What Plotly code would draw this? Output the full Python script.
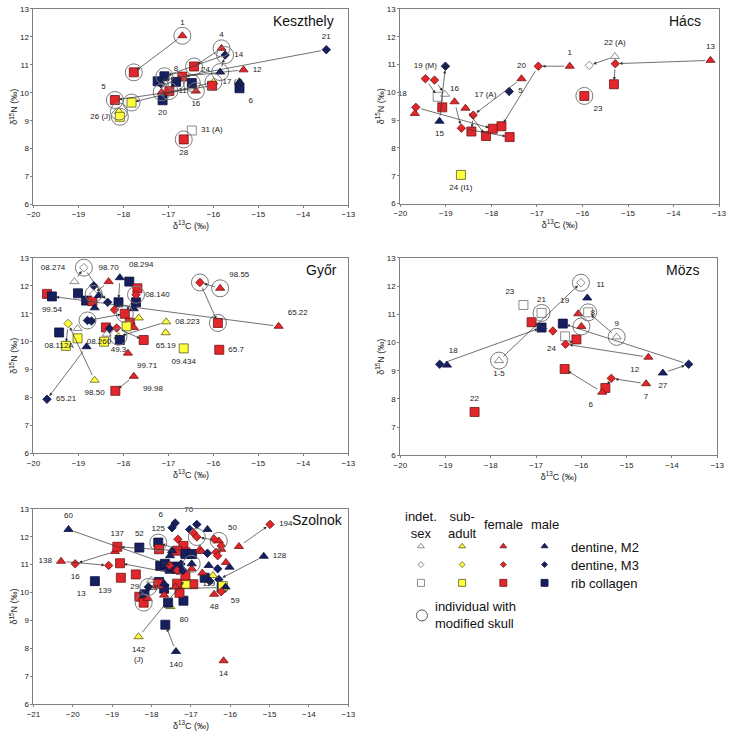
import plotly.graph_objects as go

# kind code: first letter = group (I indet. sex, S sub-adult, F female, M male)
#            second letter = tissue (2 dentine M2, 3 dentine M3, R rib collagen)

# ---------------- Keszthely ----------------
KESZ_X = [-16.69, -17.77, -15.82, -16.43, -15.74, -15.85, -13.49, -17.09, -15.33, -16.69,
          -16.83, -17.24, -17.16, -16.48, -16.00, -16.03, -17.82, -16.39, -17.15, -16.98,
          -18.19, -17.13, -15.42, -15.42, -18.10, -18.08, -16.48, -16.66]
KESZ_Y = [12.04, 10.73, 11.59, 10.94, 11.35, 10.74, 11.54, 10.59, 10.82, 10.58,
          10.39, 10.41, 10.31, 10.35, 10.38, 10.25, 9.65, 10.06, 10.02, 10.06,
          9.74, 9.73, 10.39, 10.16, 9.33, 9.14, 8.65, 8.33]
KESZ_KIND = ['F2', 'FR', 'F2', 'FR', 'M3', 'M2', 'M3', 'MR', 'F2', 'FR',
             'MR', 'MR', 'M3', 'MR', 'S2', 'FR', 'SR', 'F2', 'F2', 'FR',
             'FR', 'MR', 'M2', 'MR', 'S2', 'SR', 'IR', 'FR']
KESZ_MOD = [1, 1, 1, 1, 1, 1, 0, 1, 0, 0,
            1, 0, 0, 1, 1, 0, 1, 1, 1, 1,
            1, 0, 0, 0, 1, 1, 0, 1]
KESZ_LABELS = {0: '1', 2: '4', 4: '14', 6: '21', 8: '12', 10: '8', 13: '24', 14: '17 (J)',
               17: '16', 19: '11', 20: '5', 21: '20', 23: '6', 25: '26 (J)', 26: '31 (A)', 27: '28'}
KESZ_ARROWS = [(0, 1), (2, 3), (5, 4), (4, 7), (6, 11), (8, 9), (14, 16), (15, 20)]

# ---------------- Hács ----------------
HACS_X = [-16.28, -16.97, -17.78, -15.29, -15.85, -13.19, -15.28, -15.31, -15.96, -17.34,
          -18.40, -17.61, -18.57, -18.81, -19.45, -19.25, -19.01, -19.18, -19.02, -19.08,
          -19.14, -19.66, -19.68, -18.66, -18.44, -18.12, -17.97, -17.60, -18.67]
HACS_Y = [10.94, 10.94, 8.78, 11.29, 10.97, 11.15, 11.03, 10.29, 9.87, 10.49,
          9.18, 10.03, 9.43, 9.66, 10.49, 10.44, 10.94, 9.84, 9.93, 9.46,
          8.96, 9.46, 9.24, 8.71, 8.59, 8.43, 8.69, 8.39, 7.03]
HACS_KIND = ['F2', 'F3', 'FR', 'I2', 'I3', 'F2', 'F3', 'FR', 'FR', 'F2',
             'F3', 'M3', 'F2', 'F2', 'F3', 'F3', 'M3', 'IR', 'I2', 'FR',
             'M2', 'F3', 'F2', 'F3', 'FR', 'FR', 'FR', 'FR', 'SR']
HACS_MOD = [0] * 8 + [1] + [0] * 20
HACS_LABELS = {0: '1', 3: '22 (A)', 5: '13', 8: '23', 9: '20', 11: '5', 12: '17 (A)', 13: '16',
               14: '19 (M)', 15: '4', 20: '15', 21: '18', 28: '24 (I1)'}
HACS_ARROWS = [(0, 1), (1, 2), (3, 4), (5, 6), (6, 7), (9, 10), (10, 24), (20, 16),
               (14, 17), (15, 18), (13, 23), (23, 27), (12, 25), (21, 26)]

# ---------------- Győr ----------------
GYOR_X = [-19.09, -18.88, -18.33, -18.08, -18.11, -17.87, -17.69, -17.72, -17.77, -17.72,
          -19.70, -19.59, -14.55, -19.01, -18.83, -18.69, -18.66, -18.66, -18.55, -18.35,
          -18.64, -18.80, -18.71, -19.02, -19.43, -19.23, -19.28, -19.02, -18.64, -18.82,
          -19.70, -18.20, -17.97, -18.39, -18.31, -18.37, -17.84, -17.86, -17.77, -18.15,
          -17.55, -17.93, -17.66, -18.11, -18.43, -18.08, -17.90, -17.05, -17.06, -16.66,
          -15.85, -16.30, -15.90, -15.87, -17.77, -18.18]
GYOR_Y = [12.15, 12.65, 12.15, 12.29, 11.41, 12.15, 11.91, 11.41, 11.18, 11.68,
          11.71, 11.62, 10.55, 11.73, 11.47, 11.45, 12.00, 11.71, 11.65, 11.41,
          11.21, 10.76, 10.74, 10.47, 10.33, 10.65, 9.85, 10.12, 8.62, 9.82,
          7.94, 11.14, 11.00, 10.51, 10.47, 10.27, 10.71, 10.68, 10.51, 10.49,
          10.06, 10.55, 10.85, 10.18, 10.00, 10.06, 9.59, 10.71, 10.32, 9.76,
          11.91, 12.12, 10.67, 9.71, 8.76, 8.24]
GYOR_KIND = ['I2', 'I3', 'F2', 'M2', 'MR', 'MR', 'FR', 'MR', 'M2', 'F3',
             'FR', 'MR', 'F2', 'MR', 'MR', 'FR', 'M3', 'I3', 'M2', 'M3',
             'M2', 'M3', 'M3', 'I2', 'MR', 'S3', 'SR', 'SR', 'S2', 'M2',
             'M3', 'F3', 'FR', 'FR', 'M3', 'I2', 'F2', 'FR', 'F2', 'F3',
             'FR', 'SR', 'S2', 'S2', 'SR', 'MR', 'F2', 'S2', 'S2', 'SR',
             'F2', 'F3', 'FR', 'FR', 'F2', 'FR']
GYOR_MOD = [0, 1, 0, 0, 0, 0, 0, 0, 0, 1,
            0, 0, 0, 0, 0, 0, 0, 1, 0, 0,
            0, 1, 0, 0, 0, 0, 0, 0, 0, 0,
            0, 0, 1, 0, 0, 0, 0, 0, 0, 0,
            0, 0, 0, 1, 0, 0, 0, 0, 0, 0,
            1, 1, 1, 0, 0, 0]
GYOR_LABELS = {0: '08.274', 2: '98.70', 3: '08.294', 9: '08.140', 11: '99.54', 12: '65.22',
               23: '08.260', 24: '08.112A', 28: '98.50', 30: '65.21', 43: '49.3', 46: '99.71',
               47: '08.223', 48: '65.19', 49: '09.434', 50: '98.55', 53: '65.7', 54: '99.98'}
GYOR_ARROWS = [(0, 1), (1, 19), (2, 17), (3, 4), (12, 11), (25, 26), (28, 25), (29, 30),
               (39, 40), (47, 43), (50, 51), (51, 52), (54, 55), (9, 32), (21, 32)]

# ---------------- Mözs ----------------
MOZS_X = [-19.13, -18.97, -16.88, -17.82, -16.01, -17.28, -16.88, -17.10, -16.63, -16.41,
          -16.36, -16.11, -16.35, -16.07, -15.87, -16.00, -15.85, -15.22, -14.52, -13.63,
          -14.20, -14.57, -15.34, -15.47, -15.54, -16.37, -18.36]
MOZS_Y = [9.23, 9.20, 10.53, 9.36, 12.12, 11.33, 11.05, 10.72, 10.41, 10.67,
          10.22, 10.11, 9.94, 11.02, 11.58, 10.57, 11.07, 10.20, 9.48, 9.23,
          8.92, 8.54, 8.73, 8.39, 8.24, 9.06, 7.54]
MOZS_KIND = ['M3', 'M2', 'MR', 'I2', 'I3', 'IR', 'IR', 'FR', 'F3', 'MR',
             'IR', 'FR', 'F3', 'F2', 'M2', 'F2', 'IR', 'I2', 'F2', 'M3',
             'M2', 'F2', 'F3', 'FR', 'F2', 'FR', 'FR']
MOZS_MOD = [0, 0, 0, 1, 1, 0, 1, 0, 0, 0,
            0, 0, 0, 0, 0, 1, 1, 1, 0, 0,
            0, 0, 0, 0, 0, 0, 0]
MOZS_LABELS = {0: '18', 3: '1-5', 5: '23', 6: '21', 10: '24', 13: '19', 14: '11', 15: '8',
               17: '9', 18: '12', 20: '27', 21: '7', 24: '6', 26: '22'}
MOZS_ARROWS = [(0, 2), (3, 4), (8, 7), (19, 9), (20, 19), (12, 11), (18, 12),
               (21, 22), (22, 23), (24, 25), (17, 16)]

# ---------------- Szolnok ----------------
SZOL_X = [-20.11, -20.30, -19.94, -19.09, -18.93, -18.87, -18.31, -19.44, -18.78, -18.80,
          -18.40, -18.08, -18.01, -18.31, -18.18, -18.20, -18.33, -17.38, -17.65, -16.17,
          -17.52, -17.58, -17.19, -17.83, -17.48, -17.40, -16.85, -17.03, -16.58, -16.94,
          -16.85, -16.29, -16.41, -17.33, -14.99, -15.78, -15.15, -16.29, -16.22, -16.19,
          -16.41, -16.94, -17.14, -17.12, -16.44, -17.19, -17.14, -17.35, -17.81, -17.78,
          -17.66, -17.54, -17.43, -17.35, -17.14, -16.97, -17.81, -17.68, -16.65, -17.35,
          -17.29, -17.14, -17.83, -17.53, -17.48, -16.55, -16.02, -16.12, -17.68, -16.77,
          -16.73, -16.98, -16.71, -16.11, -16.23, -18.10, -17.68, -17.39, -16.36, -16.32,
          -16.23, -17.35, -17.54, -16.23, -16.58, -16.32, -16.52, -16.98, -17.25, -17.20]
SZOL_Y = [12.26, 11.12, 11.03, 10.97, 11.47, 11.64, 11.61, 10.41, 10.53, 11.05,
          10.65, 10.20, 10.44, 9.85, 9.94, 9.64, 8.42, 7.89, 8.85, 7.56,
          9.50, 9.64, 9.71, 11.79, 12.32, 12.49, 12.44, 12.26, 12.26, 12.14,
          11.99, 11.85, 11.91, 11.91, 12.44, 11.65, 11.30, 10.47, 10.18, 10.23,
          9.94, 10.30, 10.30, 10.50, 10.61, 11.67, 11.44, 11.50, 11.55, 10.96,
          11.03, 10.85, 10.93, 10.85, 11.38, 11.38, 10.38, 10.14, 10.53, 10.32,
          9.99, 10.61, 10.32, 11.32, 11.50, 10.97, 10.91, 10.20, 10.32, 11.55,
          11.47, 10.85, 10.70, 11.08, 11.55, 9.79, 9.91, 10.20, 11.44, 11.32,
          11.67, 10.79, 10.97, 10.03, 11.41, 10.85, 10.41, 11.03, 11.02, 10.80]
SZOL_KIND = ['M2', 'F2', 'F3', 'F3', 'F2', 'FR', 'MR', 'MR', 'FR', 'FR',
             'FR', 'M3', 'I2', 'FR', 'MR', 'FR', 'S2', 'M2', 'MR', 'F2',
             'S2', 'MR', 'MR', 'MR', 'M3', 'M3', 'M3', 'M3', 'M2', 'F3',
             'F3', 'F2', 'F3', 'F3', 'F3', 'F2', 'M2', 'M3', 'MR', 'SR',
             'F2', 'FR', 'SR', 'S2', 'S2', 'FR', 'FR', 'FR', 'FR', 'MR',
             'MR', 'MR', 'MR', 'MR', 'MR', 'MR', 'MR', 'MR', 'MR', 'FR',
             'FR', 'FR', 'FR', 'M2', 'M2', 'M2', 'M2', 'M2', 'M2', 'F2',
             'F2', 'F2', 'F2', 'F2', 'F2', 'F2', 'F2', 'F2', 'F3', 'F3',
             'F3', 'F3', 'F3', 'F3', 'M3', 'M3', 'M3', 'M2', 'M3', 'M3']
SZOL_MOD = [0] * 90
for _i in (11, 15, 23, 30, 31, 87):
    SZOL_MOD[_i] = 1
SZOL_LABELS = {0: '60', 1: '138', 2: '16', 5: '137', 6: '52', 7: '13', 8: '139', 10: '152',
               11: '29', 16: '142<br>(J)', 17: '140', 19: '14', 20: '80', 23: '125', 24: '6',
               25: '70', 31: '50', 34: '194', 36: '128', 38: '59', 40: '48', 41: '119'}
SZOL_ARROWS = [(0, 52), (4, 2), (1, 3), (47, 5), (61, 9), (46, 23), (16, 43), (17, 18),
               (31, 30), (35, 34), (36, 37), (38, 57)]

# ---------------- legend ----------------
LEG_GROUPS = ['indet.<br>sex', 'sub-<br>adult', 'female', 'male']
LEG_GROUP_CODES = ['I', 'S', 'F', 'M']
LEG_TISSUES = ['dentine, M2', 'dentine, M3', 'rib collagen']
LEG_TISSUE_CODES = ['2', '3', 'R']

# ---------------- styles ----------------
SYMBOL = {'2': 'triangle-up', '3': 'diamond', 'R': 'square'}
SIZE = {'2': 8, '3': 6.5, 'R': 9}
FILL = {'I': '#ffffff', 'S': '#ffff3c', 'F': '#e3262b', 'M': '#17205e'}
EDGE = {'I': '#6e6e6e', 'S': '#5a5a1e', 'F': '#701515', 'M': '#0c1240'}
FONT = 'Arial, Liberation Sans, sans-serif'

KESZ_POS = {0: 'top center', 2: 'top center', 4: 'middle right', 6: 'top center', 8: 'middle right',
            10: 'top center', 13: 'top right', 14: 'middle right', 17: 'bottom center',
            19: 'middle right', 20: 'top left', 21: 'bottom center', 23: 'bottom right',
            25: 'middle left', 26: 'middle right', 27: 'bottom center'}
HACS_POS = {0: 'top center', 3: 'top center', 5: 'top center', 8: 'bottom right', 9: 'top center',
            11: 'middle right', 12: 'top right', 13: 'top center', 14: 'top center', 15: 'top right',
            20: 'bottom center', 21: 'top left', 28: 'bottom center'}
GYOR_POS = {0: 'top left', 2: 'top center', 3: 'top right', 9: 'middle right', 11: 'bottom center',
            12: 'top right', 23: 'bottom right', 24: 'bottom center', 28: 'bottom center',
            30: 'middle right', 43: 'bottom center', 46: 'bottom right', 47: 'middle right',
            48: 'bottom center', 49: 'bottom center', 50: 'top right', 53: 'middle right',
            54: 'bottom right'}
MOZS_POS = {0: 'top right', 3: 'bottom center', 5: 'top left', 6: 'top center', 10: 'bottom left',
            13: 'top left', 14: 'top right', 15: 'top right', 17: 'top center', 18: 'bottom left',
            20: 'bottom center', 21: 'bottom center', 24: 'bottom left', 26: 'top center'}
SZOL_POS = {0: 'top center', 1: 'middle left', 2: 'bottom center', 5: 'top center', 6: 'top center',
            7: 'bottom left', 8: 'bottom left', 10: 'bottom right', 11: 'middle left',
            16: 'bottom center', 17: 'bottom center', 19: 'bottom center', 20: 'bottom right',
            23: 'top center', 24: 'top left', 25: 'top right', 31: 'top right', 34: 'middle right',
            36: 'middle right', 38: 'bottom right', 40: 'bottom center', 41: 'middle right'}

W, H = 733, 737
fig = go.Figure()


def px_x(a, b):
    return [a / W, b / W]


def px_y(top, bottom):
    return [1 - bottom / H, 1 - top / H]


def add_panel(n, xs, ys, kinds, mods, labels, pos, arrows, title, title_x, xr, dom_x, dom_y):
    xa = 'x' if n == 1 else f'x{n}'
    ya = 'y' if n == 1 else f'y{n}'
    # arrows between tissues of the same individual
    for a, b in arrows:
        fig.add_annotation(x=xs[b], y=ys[b], ax=xs[a], ay=ys[a], xref=xa, yref=ya,
                           axref=xa, ayref=ya, text='', showarrow=True, arrowhead=2,
                           arrowsize=0.9, arrowwidth=0.7, arrowcolor='#333333',
                           standoff=4, startstandoff=4)
    fig.add_trace(go.Scatter(
        x=xs, y=ys, mode='markers', xaxis=xa, yaxis=ya, showlegend=False, hoverinfo='skip',
        marker=dict(symbol=[SYMBOL[k[1]] for k in kinds], size=[SIZE[k[1]] for k in kinds],
                    color=[FILL[k[0]] for k in kinds], opacity=1,
                    line=dict(color=[EDGE[k[0]] for k in kinds], width=0.8))))
    cx = [x for x, m in zip(xs, mods) if m]
    cy = [y for y, m in zip(ys, mods) if m]
    fig.add_trace(go.Scatter(
        x=cx, y=cy, mode='markers', xaxis=xa, yaxis=ya, showlegend=False, hoverinfo='skip',
        marker=dict(symbol='circle-open', size=17, color='#7a7a7a', opacity=1, line=dict(width=1))))
    idx = list(labels.keys())
    # invisible markers push the labels away from the points
    fig.add_trace(go.Scatter(
        x=[xs[i] for i in idx], y=[ys[i] for i in idx], mode='markers+text', xaxis=xa, yaxis=ya,
        text=[labels[i] for i in idx], textposition=[pos[i] for i in idx],
        marker=dict(size=13, opacity=0),
        textfont=dict(size=8, color='#222222', family=FONT),
        showlegend=False, hoverinfo='skip', cliponaxis=False))
    axx = dict(domain=dom_x, range=xr, dtick=1, showline=True, mirror=True, linecolor='#808080',
               linewidth=1, ticks='outside', ticklen=2, tickcolor='#808080', showgrid=False,
               zeroline=False, tickfont=dict(size=8, color='#222222', family=FONT),
               title=dict(text='δ<sup>13</sup>C (‰)', font=dict(size=9, color='#222222', family=FONT),
                          standoff=0),
               anchor=ya)
    axy = dict(domain=dom_y, range=[6, 13], dtick=1, showline=True, mirror=True, linecolor='#808080',
               linewidth=1, ticks='outside', ticklen=2, tickcolor='#808080', showgrid=False,
               zeroline=False, tickfont=dict(size=8, color='#222222', family=FONT),
               title=dict(text='δ<sup>15</sup>N (‰)', font=dict(size=9, color='#222222', family=FONT),
                          standoff=0),
               anchor=xa)
    fig.update_layout(**{('xaxis' if n == 1 else f'xaxis{n}'): axx,
                         ('yaxis' if n == 1 else f'yaxis{n}'): axy})
    fig.add_annotation(text=title, xref=f'{xa} domain', yref=f'{ya} domain', x=title_x, y=0.94,
                       xanchor='right', yanchor='middle', showarrow=False,
                       font=dict(size=14, color='#111111', family=FONT))


add_panel(1, KESZ_X, KESZ_Y, KESZ_KIND, KESZ_MOD, KESZ_LABELS, KESZ_POS, KESZ_ARROWS,
          'Keszthely', 0.96, [-20, -13], px_x(27, 348), px_y(5, 203))
add_panel(2, HACS_X, HACS_Y, HACS_KIND, HACS_MOD, HACS_LABELS, HACS_POS, HACS_ARROWS,
          'Hács', 0.95, [-20, -13], px_x(401, 726), px_y(5, 202))
add_panel(3, GYOR_X, GYOR_Y, GYOR_KIND, GYOR_MOD, GYOR_LABELS, GYOR_POS, GYOR_ARROWS,
          'Győr', 0.97, [-20, -13], px_x(27, 348), px_y(257, 455))
add_panel(4, MOZS_X, MOZS_Y, MOZS_KIND, MOZS_MOD, MOZS_LABELS, MOZS_POS, MOZS_ARROWS,
          'Mözs', 0.95, [-20, -13], px_x(401, 724), px_y(257, 457))
add_panel(5, SZOL_X, SZOL_Y, SZOL_KIND, SZOL_MOD, SZOL_LABELS, SZOL_POS, SZOL_ARROWS,
          'Szolnok', 0.99, [-21, -13], px_x(27, 348), px_y(511, 709))

# ---------------- legend panel (pixel coordinates) ----------------
fig.update_layout(
    xaxis6=dict(domain=px_x(370, 733), range=[370, 733], visible=False, anchor='y6'),
    yaxis6=dict(domain=px_y(490, 737), range=[737, 490], visible=False, anchor='x6'))
col_x = [422 + 42 * i for i in range(len(LEG_GROUPS))]
row_y = [549 + 18.5 * j for j in range(len(LEG_TISSUES))]
lx, ly, lsym, lcol, ledge, lsize = [], [], [], [], [], []
for j, t in enumerate(LEG_TISSUE_CODES):
    for i, g in enumerate(LEG_GROUP_CODES):
        lx.append(col_x[i])
        ly.append(row_y[j])
        lsym.append(SYMBOL[t])
        lcol.append(FILL[g])
        ledge.append(EDGE[g])
        lsize.append(SIZE[t] - 2)
fig.add_trace(go.Scatter(x=lx, y=ly, mode='markers', xaxis='x6', yaxis='y6', showlegend=False,
                         hoverinfo='skip',
                         marker=dict(symbol=lsym, size=lsize, color=lcol, opacity=1,
                                     line=dict(color=ledge, width=0.8))))
fig.add_trace(go.Scatter(x=[423], y=[619], mode='markers', xaxis='x6', yaxis='y6', showlegend=False,
                         hoverinfo='skip',
                         marker=dict(symbol='circle-open', size=11, color='#555555', line=dict(width=1))))
for i, g in enumerate(LEG_GROUPS):
    fig.add_annotation(text=g, x=col_x[i], y=527, xref='x6', yref='y6', showarrow=False,
                       xanchor='center', yanchor='middle',
                       font=dict(size=13, color='#111111', family=FONT))
for j, t in enumerate(LEG_TISSUES):
    fig.add_annotation(text=t, x=573, y=row_y[j] + 1, xref='x6', yref='y6', showarrow=False,
                       xanchor='left', yanchor='middle',
                       font=dict(size=13, color='#111111', family=FONT))
fig.add_annotation(text='individual with<br>modified skull', x=434, y=619, xref='x6', yref='y6',
                   showarrow=False, xanchor='left', yanchor='middle', align='left',
                   font=dict(size=13, color='#111111', family=FONT))

fig.update_layout(width=W, height=H, margin=dict(l=0, r=0, t=0, b=0),
                  paper_bgcolor='white', plot_bgcolor='white',
                  font=dict(family=FONT))
fig.write_html("out.html", config={'displayModeBar': False},
               post_script="document.body.style.margin='0';")
